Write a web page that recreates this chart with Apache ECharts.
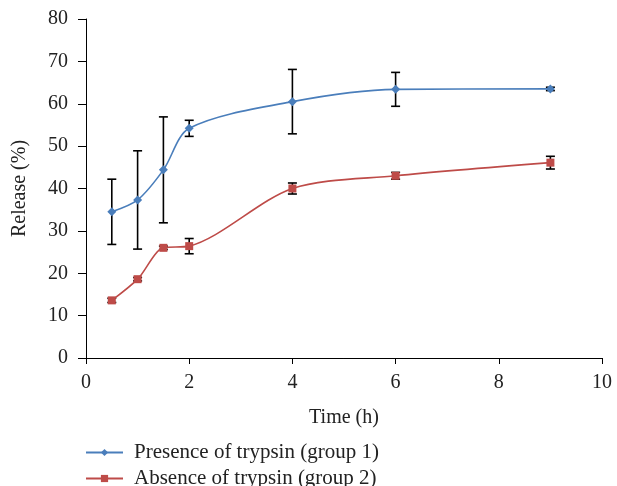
<!DOCTYPE html>
<html lang="en">
<head>
    <meta charset="UTF-8">
    <title>Release vs time</title>
    <script src="https://cdn.jsdelivr.net/npm/echarts@6/dist/echarts.min.js"></script>
    <style>
        html, body { margin: 0; padding: 0; background: #fff; }
        #chart { width: 617px; height: 486px; }
    </style>
</head>
<body>
    <div id="chart"></div>
    <script>
        var times = [0.5, 1, 1.5, 2, 4, 6, 9];
        var group1 = [34.5, 37.3, 44.4, 54.2, 60.5, 63.4, 63.5];
        var group1Err = [7.7, 11.6, 12.5, 1.9, 7.6, 4.0, 0.4];
        var group2 = [13.6, 18.6, 26.0, 26.4, 40.0, 43.0, 46.1];
        var group2Err = [0.5, 0.4, 0.4, 1.8, 1.3, 0.8, 1.5];
        var names = ['Presence of trypsin (group 1)', 'Absence of trypsin (group 2)'];

        var font = '"Liberation Serif", "DejaVu Serif", serif';
        var txt = '#222';

        function errData(vals, errs) {
            return times.map(function (t, i) { return [t, vals[i] - errs[i], vals[i] + errs[i]]; });
        }

        function renderErr(params, api) {
            var lo = api.coord([api.value(0), api.value(1)]);
            var hi = api.coord([api.value(0), api.value(2)]);
            var w = 4.5;
            var style = { stroke: '#000', lineWidth: 1.6 };
            return {
                type: 'group',
                children: [
                    { type: 'line', shape: { x1: lo[0], y1: lo[1], x2: hi[0], y2: hi[1] }, style: style },
                    { type: 'line', shape: { x1: lo[0] - w, y1: lo[1], x2: lo[0] + w, y2: lo[1] }, style: style },
                    { type: 'line', shape: { x1: hi[0] - w, y1: hi[1], x2: hi[0] + w, y2: hi[1] }, style: style }
                ]
            };
        }

        // one legend per row so the rows can sit where the reference has them
        function legendRow(name, top) {
            return {
                data: [name],
                left: 85,
                top: top,
                padding: 0,
                itemWidth: 37,
                itemHeight: 9,
                textStyle: { fontFamily: font, fontSize: 21, color: txt, padding: [0, 0, 0, 6] }
            };
        }

        var chart = echarts.init(document.getElementById('chart'));
        chart.setOption({
            animation: false,
            textStyle: { fontFamily: font },
            grid: { left: 86, right: 15, top: 19, bottom: 128 },
            legend: [legendRow(names[0], 442), legendRow(names[1], 468)],
            xAxis: {
                type: 'value',
                min: 0, max: 10, interval: 2,
                name: 'Time (h)',
                nameLocation: 'middle',
                nameGap: 50,
                nameTextStyle: { fontFamily: font, fontSize: 20, color: txt },
                axisLine: { lineStyle: { color: '#000', width: 1 } },
                axisTick: { length: 6, lineStyle: { color: '#000' } },
                axisLabel: { fontFamily: font, fontSize: 20, color: txt, margin: 15 },
                splitLine: { show: false }
            },
            yAxis: {
                type: 'value',
                min: 0, max: 80, interval: 10,
                name: 'Release (%)',
                nameLocation: 'middle',
                nameGap: 56,
                nameTextStyle: { fontFamily: font, fontSize: 20, color: txt },
                axisLine: { show: true, lineStyle: { color: '#000', width: 1 } },
                axisTick: { show: true, length: 8, lineStyle: { color: '#000' } },
                axisLabel: { fontFamily: font, fontSize: 20, color: txt, margin: 18 },
                splitLine: { show: false }
            },
            series: [
                {
                    name: names[0],
                    type: 'line',
                    smooth: 0.3,
                    data: times.map(function (t, i) { return [t, group1[i]]; }),
                    symbol: 'diamond',
                    symbolSize: 9,
                    itemStyle: { color: '#4a7ebb' },
                    lineStyle: { color: '#4a7ebb', width: 1.6 },
                    z: 3
                },
                {
                    name: names[1],
                    type: 'line',
                    smooth: 0.3,
                    data: times.map(function (t, i) { return [t, group2[i]]; }),
                    symbol: 'rect',
                    symbolSize: 8,
                    itemStyle: { color: '#be4b48' },
                    lineStyle: { color: '#be4b48', width: 1.6 },
                    z: 3
                },
                {
                    type: 'custom',
                    renderItem: renderErr,
                    data: errData(group1, group1Err),
                    encode: { x: 0, y: [1, 2] },
                    z: 2
                },
                {
                    type: 'custom',
                    renderItem: renderErr,
                    data: errData(group2, group2Err),
                    encode: { x: 0, y: [1, 2] },
                    z: 2
                }
            ]
        });
    </script>
</body>
</html>
